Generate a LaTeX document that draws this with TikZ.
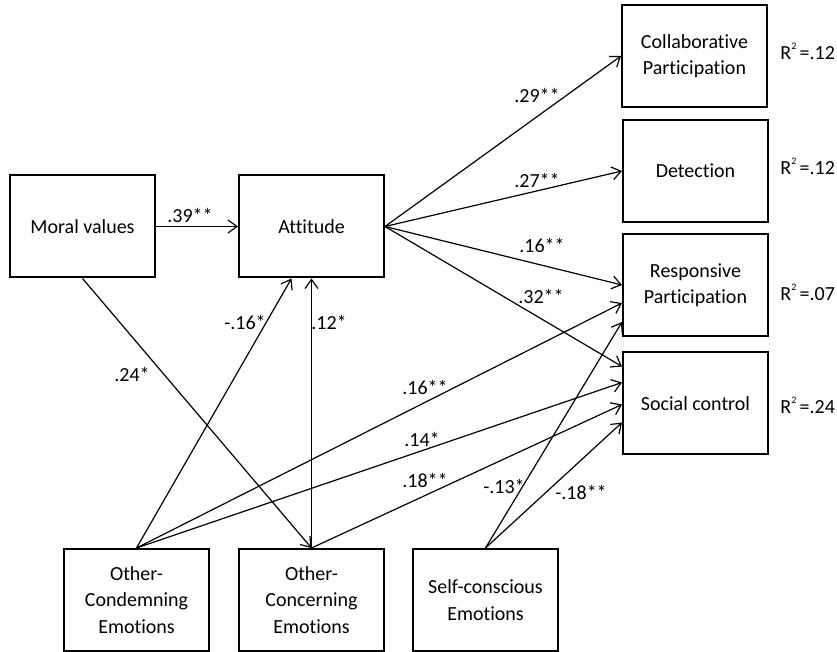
\documentclass[tikz,border=0pt]{standalone}
\usepackage{fontspec}
\setmainfont[Ligatures={NoCommon}]{Carlito}
\usetikzlibrary{arrows.meta, calc}

\begin{document}
\begin{tikzpicture}[
    x=0.5pt, y=-0.5pt,
    box/.style={rectangle, draw, line width=1pt, minimum width=72.5pt, minimum height=51pt, align=center, font=\fontsize{10}{13.25}\selectfont},
    arrow/.style={-{Straight Barb[length=4.5pt, width=6.5pt]}, line width=0.6pt},
    coef/.style={font=\fontsize{10}{12}\selectfont, inner sep=0pt},
    rsq/.style={font=\fontsize{10}{12}\selectfont, inner sep=0pt, anchor=base west}
]
\useasboundingbox (0,0) rectangle (837,652);

% Predictors
\node[box] (moral) at (82.5,226.5) {Moral values};
\node[box] (att) at (311.5,226.5) {Attitude};

% Outcomes
\node[box] (coll) at (694.5,56) {Collaborative\\Participation};
\node[box] (det) at (695.5,171) {Detection};
\node[box] (resp) at (695.5,285) {Responsive\\Participation};
\node[box] (soc) at (695.5,403.5) {Social control};

% Emotions
\node[box] (cond) at (136.5,600) {Other-\\Condemning\\Emotions};
\node[box] (conc) at (311.5,600) {Other-\\Concerning\\Emotions};
\node[box] (self) at (485.5,600) {Self-conscious\\Emotions};

% Explained variance
\node[rsq] (rcoll) at (780,60) {R\raisebox{1.1ex}{\tiny 2}\,=.12};
\node[rsq] (rdet) at (780,175) {R\raisebox{1.1ex}{\tiny 2}\,=.12};
\node[rsq] (rresp) at (780,301) {R\raisebox{1.1ex}{\tiny 2}\,=.07};
\node[rsq] (rsoc) at (780,414) {R\raisebox{1.1ex}{\tiny 2}\,=.24};

% Paths from moral values and attitude
\draw[arrow] (moral) -- (att);
\draw[arrow] (att.east) -- (coll.west);
\draw[arrow] (att.east) -- (det.west);
\draw[arrow] (att.east) -- (resp.west);
\draw[arrow] (att.east) -- ($(soc.west)+(0,-37)$);
\draw[arrow] (moral.south) -- (conc.north);

% Paths from emotions
\draw[arrow] (cond.north) -- ($(att.south)+(-20,0)$);
\draw[arrow] (conc.north) -- (att.south);
\draw[arrow] (cond.north) -- ($(resp.west)+(0,18)$);
\draw[arrow] (cond.north) -- ($(soc.west)+(0,-21)$);
\draw[arrow] (conc.north) -- ($(soc.west)+(0,1)$);
\draw[arrow] (self.north) -- ($(resp.west)+(0,37)$);
\draw[arrow] (self.north) -- ($(soc.west)+(0,19)$);

% Coefficients
\node[coef] (c39) at (190,215) {.39**};
\node[coef] (c29) at (537,95) {.29**};
\node[coef] (c27) at (537,180) {.27**};
\node[coef] (c16a) at (542,245) {.16**};
\node[coef] (c32) at (541,296) {.32**};
\node[coef] (c24) at (132,374) {.24*};
\node[coef] (c16b) at (245,322) {-.16*};
\node[coef] (c12) at (329,322) {.12*};
\node[coef] (c16c) at (425,387) {.16**};
\node[coef] (c14) at (422,439) {.14*};
\node[coef] (c18a) at (425,480) {.18**};
\node[coef] (c13) at (504,486) {-.13*};
\node[coef] (c18b) at (581,492) {-.18**};

\end{tikzpicture}
\end{document}
